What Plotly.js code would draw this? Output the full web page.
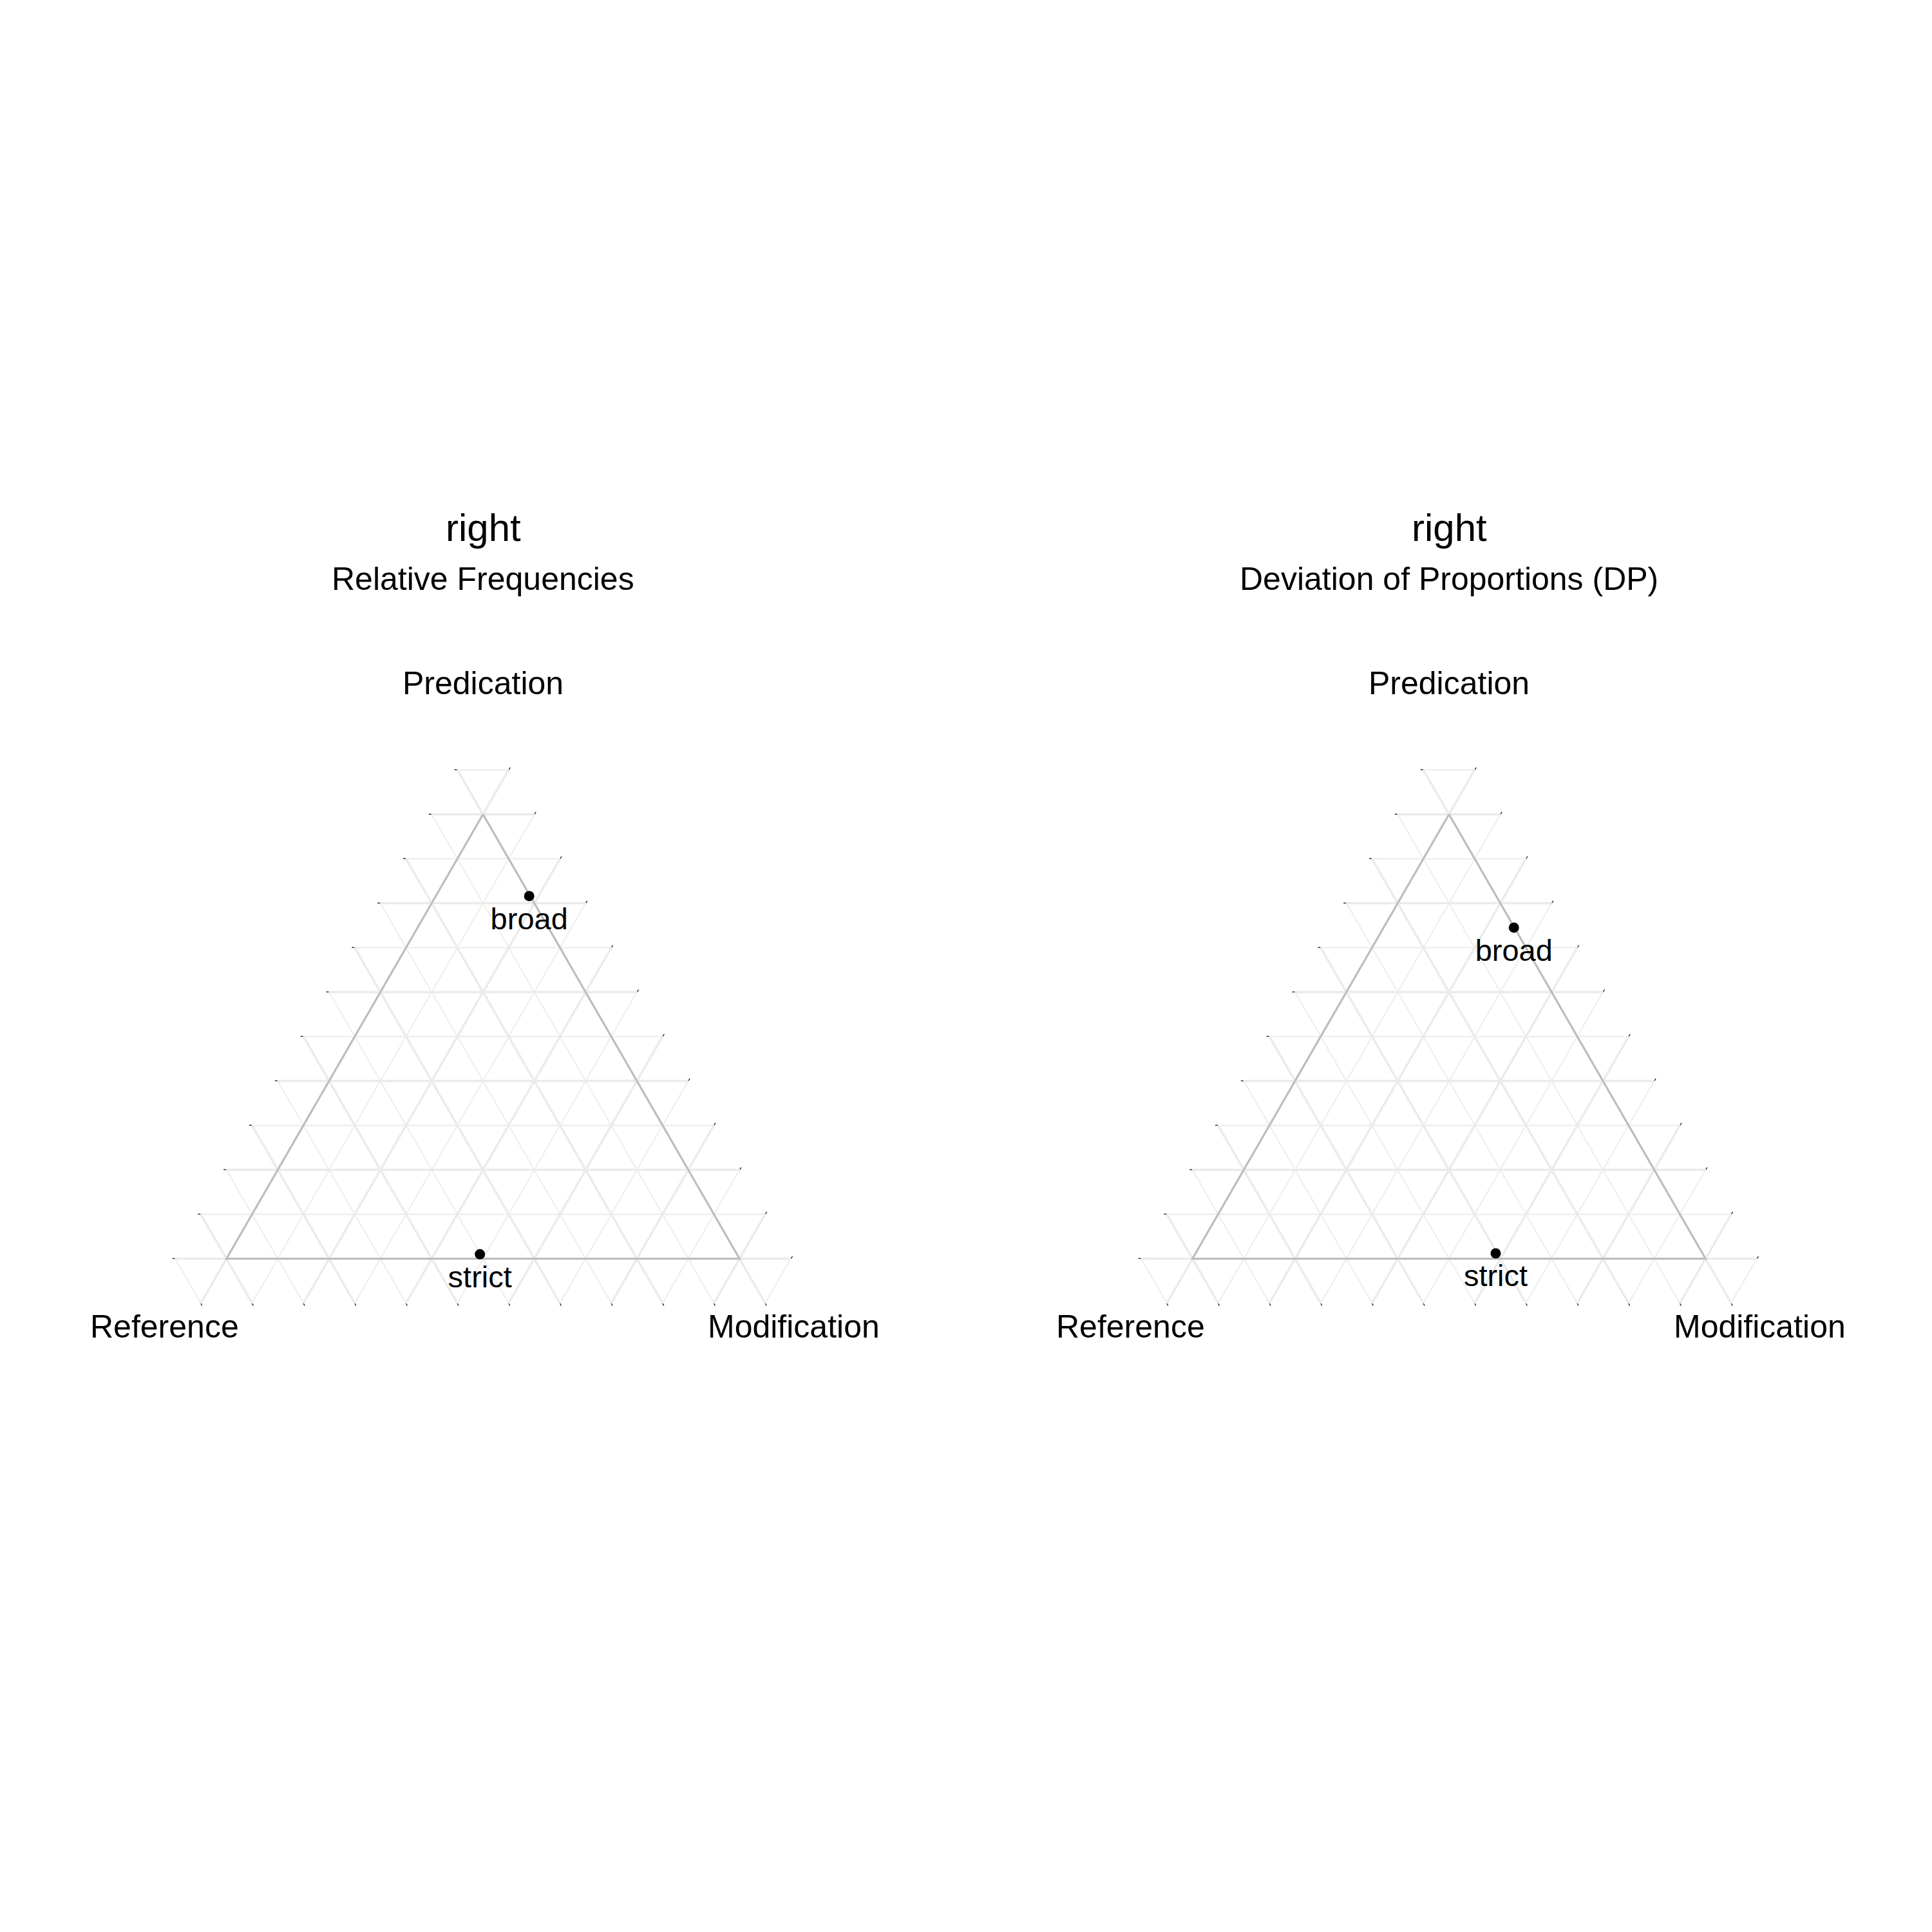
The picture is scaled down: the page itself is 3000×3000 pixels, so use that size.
<!DOCTYPE html>
<html><head><meta charset="utf-8">
<script src="https://cdn.plot.ly/plotly-3.0.1.min.js"></script>
<style>html,body{margin:0;padding:0;background:#fff}</style>
</head><body><div id="chart" style="width:3000px;height:3000px"></div>
<script>
// ---- data ----
const panelTitles = ["right", "right"];
const panelSubtitles = ["Relative Frequencies", "Deviation of Proportions (DP)"];
const axisTop = "Predication";
const axisLeft = "Reference";
const axisRight = "Modification";
const pointLabels = ["broad", "strict"];
// panel 1: relative frequencies
const relPredication = [0.816, 0.010];
const relReference   = [0.002, 0.501];
const relModification= [0.182, 0.489];
// panel 2: deviation of proportions
const dpPredication  = [0.745, 0.012];
const dpReference    = [0.001, 0.403];
const dpModification = [0.254, 0.585];
// grid values
const majorGrid = [0, 0.2, 0.4, 0.6, 0.8, 1.0];
const minorGrid = [0.1, 0.3, 0.5, 0.7, 0.9, 1.1];
const PAD = 0.1; // ggtern-style expansion of the panel

const FONT = "Liberation Sans, Arial, sans-serif";
const SUM = 1 + 3 * PAD;

// expanded coords: a = Predication, b = Reference, c = Modification
function ex(v){ return v + PAD; }

function gridTrace(vals, width, color, sub){
  const a = [], b = [], c = [];
  function seg(p1, p2){
    a.push(ex(p1[0]), ex(p2[0]), null);
    b.push(ex(p1[1]), ex(p2[1]), null);
    c.push(ex(p1[2]), ex(p2[2]), null);
  }
  vals.forEach(v => {
    const far = 1 + PAD - v;
    seg([v, -PAD, far], [v, far, -PAD]);   // Predication = v
    seg([-PAD, v, far], [far, v, -PAD]);   // Reference = v
    seg([-PAD, far, v], [far, -PAD, v]);   // Modification = v
  });
  return {type:'scatterternary', subplot: sub, mode:'lines', a, b, c,
    line:{color, width}, hoverinfo:'skip', showlegend:false, connectgaps:false};
}

function borderTrace(sub){
  const corners = [[1,0,0],[0,1,0],[0,0,1],[1,0,0]];
  return {type:'scatterternary', subplot: sub, mode:'lines',
    a: corners.map(p=>ex(p[0])), b: corners.map(p=>ex(p[1])), c: corners.map(p=>ex(p[2])),
    line:{color:'#bdbdbd', width:3}, hoverinfo:'skip', showlegend:false};
}

function pointTrace(P, R, M, sub){
  return {type:'scatterternary', subplot: sub, mode:'markers',
    a: P.map(ex), b: R.map(ex), c: M.map(ex),
    marker:{color:'#000', size:16}, showlegend:false};
}
function labelTrace(P, R, M, sub){
  return {type:'scatterternary', subplot: sub, mode:'markers+text',
    a: P.map(ex), b: R.map(ex), c: M.map(ex),
    text: pointLabels, textposition:'bottom center', cliponaxis:false,
    textfont:{family:FONT, size:47, color:'#000'},
    marker:{color:'rgba(0,0,0,0)', size:24}, hoverinfo:'skip', showlegend:false};
}

const subs = ['ternary', 'ternary2'];
const data = [];
subs.forEach((s, i) => {
  data.push(gridTrace(minorGrid, 1.8, '#ececec', s));
  data.push(gridTrace(majorGrid, 3.5, '#ebebeb', s));
  data.push(borderTrace(s));
});
data.push(pointTrace(relPredication, relReference, relModification, 'ternary'));
data.push(labelTrace(relPredication, relReference, relModification, 'ternary'));
data.push(pointTrace(dpPredication, dpReference, dpModification, 'ternary2'));
data.push(labelTrace(dpPredication, dpReference, dpModification, 'ternary2'));

const tickvals = majorGrid.concat(minorGrid).map(ex).sort((x,y)=>x-y);
function tAxis(){
  return {title:{text:''}, showgrid:false, showline:false, showticklabels:false,
    ticks:'outside', ticklen:4, tickwidth:1.2, tickcolor:'#000',
    tickmode:'array', tickvals: tickvals, min:0};
}
function ternaryLayout(x0, x1){
  return {sum: SUM, bgcolor:'#fff', domain:{x:[x0, x1], y:[0.3255, 0.6245]},
    aaxis: tAxis(), baxis: tAxis(), caxis: tAxis()};
}

const annotations = [];
const centers = [0.25, 0.75];
centers.forEach((cx, i) => {
  annotations.push({xref:'paper', yref:'paper', x:cx, y:0.7267, xanchor:'center', yanchor:'middle',
    showarrow:false, text: panelTitles[i], font:{family:FONT, size:60, color:'#000'}});
  annotations.push({xref:'paper', yref:'paper', x:cx, y:0.7004, xanchor:'center', yanchor:'middle',
    showarrow:false, text: panelSubtitles[i], font:{family:FONT, size:50, color:'#000'}});
  annotations.push({xref:'paper', yref:'paper', x:cx, y:0.6465, xanchor:'center', yanchor:'middle',
    showarrow:false, text: axisTop, font:{family:FONT, size:50, color:'#000'}});
  annotations.push({xref:'paper', yref:'paper', x:cx - 0.1649, y:0.3134, xanchor:'center', yanchor:'middle',
    showarrow:false, text: axisLeft, font:{family:FONT, size:50, color:'#000'}});
  annotations.push({xref:'paper', yref:'paper', x:cx + 0.1607, y:0.3134, xanchor:'center', yanchor:'middle',
    showarrow:false, text: axisRight, font:{family:FONT, size:50, color:'#000'}});
});

const layout = {
  width:3000, height:3000, margin:{l:0, r:0, t:0, b:0},
  paper_bgcolor:'#fff', font:{family:FONT, color:'#000'},
  showlegend:false,
  ternary: ternaryLayout(0.07733, 0.42267),
  ternary2: ternaryLayout(0.57733, 0.92267),
  annotations
};

Plotly.newPlot('chart', data, layout, {staticPlot:true});
</script>
</body></html>
